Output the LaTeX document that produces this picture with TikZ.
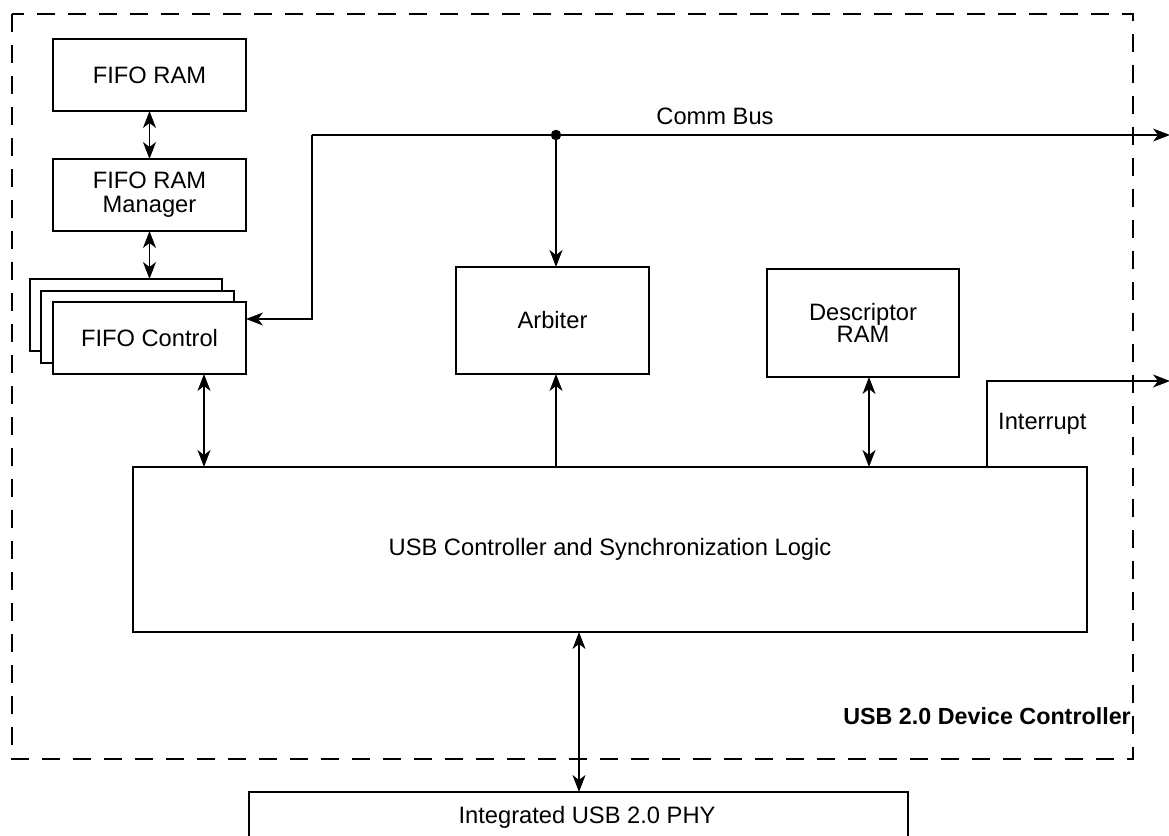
\documentclass[tikz,border=0pt]{standalone}
\usepackage{fontspec}
\setmainfont{Liberation Sans}
\usetikzlibrary{arrows.meta}
\begin{document}
\begin{tikzpicture}[x=1pt,y=-1pt,
  box/.style={draw,line width=1.2pt,fill=white,anchor=north west,inner sep=0pt,outer sep=0pt,align=center,font=\fontsize{23.7}{25}\selectfont},
  big/.style={box,line width=2.6pt},
  conn/.style={line width=1.2pt},
  tip/.style={-{Stealth[length=17pt,width=13pt,inset=5pt]}},
  dtip/.style={{Stealth[length=17pt,width=13pt,inset=5pt]}-{Stealth[length=17pt,width=13pt,inset=5pt]}},
  lbl/.style={font=\fontsize{23.7}{25}\selectfont,inner sep=0pt}]
\clip (0,0) rectangle (1169,835);
\fill[white] (0,0) rectangle (1169,835);
% outer dashed boundary
\draw[line width=2.6pt,dash pattern=on 18pt off 13pt] (12,14) rectangle (1133,759);
% boxes
\node[box,minimum width=193pt,minimum height=72pt] (fiforam) at (53,39) {FIFO RAM};
\node[box,minimum width=193pt,minimum height=72pt] (mgr) at (53,159) {FIFO RAM\\[-1pt]Manager};
\node[box,minimum width=192pt,minimum height=72pt] (back1) at (30,279) {};
\node[box,minimum width=193pt,minimum height=72pt] (back2) at (41,291) {};
\node[box,minimum width=193pt,minimum height=72pt] (fifoctl) at (53,302) {FIFO Control};
\node[box,minimum width=193pt,minimum height=107pt] (arb) at (456,267) {Arbiter};
\node[box,minimum width=192pt,minimum height=108pt] (desc) at (767,269) {Descriptor\\[-3pt]RAM};
\node[big,minimum width=954pt,minimum height=165pt] (ctrl) at (133,467) {USB Controller and Synchronization Logic};
\node[box,minimum width=659pt,minimum height=80pt] (phy) at (249,792) {};
\node[lbl] (phytext) at (587,817) {Integrated USB 2.0 PHY};
\node[lbl,font=\fontsize{23.3}{25}\selectfont\bfseries,anchor=east] (title) at (1131,716) {USB 2.0 Device Controller};
% helper coordinates
\coordinate (xa) at (204,0);
\coordinate (xb) at (556,0);
\coordinate (xc) at (869,0);
\coordinate (xd) at (579,0);
\coordinate (cbcorner) at (312,135);
\coordinate (cbdown) at (312,319);
\coordinate (cbend) at (1170,135);
\coordinate (intr) at (987,381);
\coordinate (intout) at (1170,381);
\node[circle,fill=black,inner sep=0pt,minimum size=10.5pt] (dot) at (556,135) {};
% connectors
\draw[conn,dtip] (fiforam.south) -- (mgr.north);
\draw[conn,dtip] (mgr.south) -- (mgr.south |- back1.north);
\draw[conn,tip] (cbcorner) -- (cbend);
\draw[conn,tip] (cbcorner) -- (cbdown) -- (cbdown -| fifoctl.east);
\draw[conn,tip] (dot.center) -- (arb.north -| dot);
\draw[conn,dtip] (fifoctl.south -| xa) -- (ctrl.north -| xa);
\draw[conn,tip] (ctrl.north -| xb) -- (arb.south -| xb);
\draw[conn,dtip] (desc.south -| xc) -- (ctrl.north -| xc);
\draw[conn,tip] (ctrl.north -| intr) -- (intr) -- (intout);
\draw[conn,dtip] (ctrl.south -| xd) -- (phy.north -| xd);
\node[lbl] (cblabel) at (715,116) {Comm Bus};
\node[lbl,anchor=west] (intlabel) at (998,424) {Interrupt};
\end{tikzpicture}
\end{document}
